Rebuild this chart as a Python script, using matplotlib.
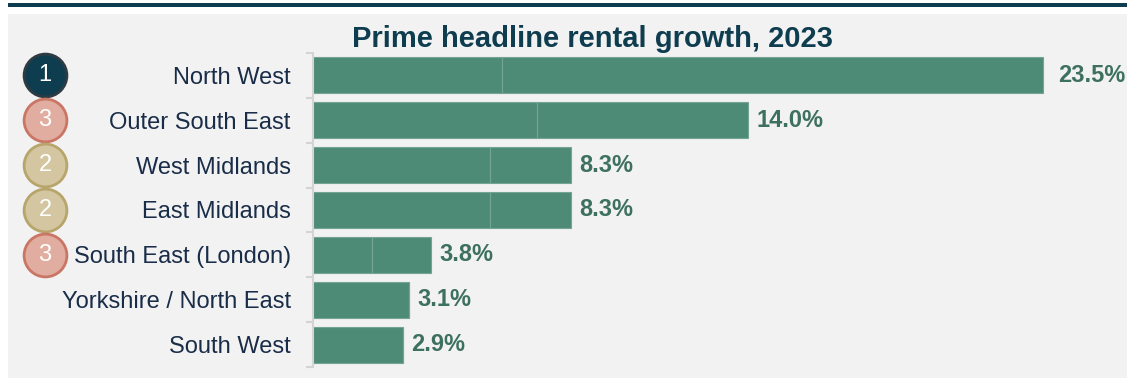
import matplotlib
matplotlib.use("Agg")
import matplotlib.pyplot as plt
import matplotlib.patches as mpatches
from matplotlib.transforms import blended_transform_factory
import numpy as np

plt.rcParams['font.family'] = ['Liberation Sans', 'DejaVu Sans']

# rental growth by region, 2023 (%)
regions = ['North West', 'Outer South East', 'West Midlands', 'East Midlands',
           'South East (London)', 'Yorkshire / North East', 'South West']
growth = [23.5, 14.0, 8.3, 8.3, 3.8, 3.1, 2.9]
# first stacked segment of each bar (0 = single segment)
first_part = [6.1, 7.2, 5.7, 5.7, 1.9, 0, 0]
# ranking badges (0 = no badge)
ranks = [1, 3, 2, 2, 3, 0, 0]

badge_fill = {1: '#0f3d50', 2: '#d3c6a0', 3: '#e2ada1'}
badge_edge = {1: '#2e3b42', 2: '#b8a56c', 3: '#c97664'}

W, H = 1127, 383
fig = plt.figure(figsize=(W / 100, H / 100), dpi=100)
fig.patch.set_facecolor('white')

# grey panel and dark rule on top
fig.patches.append(mpatches.Rectangle((8 / W, 5 / H), 1 - 8 / W, 1 - 19 / H,
                                      transform=fig.transFigure,
                                      facecolor='#f2f2f2', edgecolor='none', zorder=-5))
fig.patches.append(mpatches.Rectangle((8 / W, 1 - 6.5 / H), 1 - 8 / W, 3.5 / H,
                                      transform=fig.transFigure,
                                      facecolor='#0f3d50', edgecolor='none', zorder=-5))

fig.text(592 / W, 1 - 47 / H, 'Prime headline rental growth, 2023',
         ha='center', va='baseline', fontsize=21, fontweight='bold', color='#0f3d50',
         zorder=-1)

ax_l, ax_r = 313 / W, 1.0
ax_top, ax_bot = 1 - 53 / H, 1 - 367 / H
ax = fig.add_axes([ax_l, ax_bot, ax_r - ax_l, ax_top - ax_bot])
ax.set_facecolor('none')

y = np.arange(len(regions))
bar_col = '#4e8b76'
edge_col = '#73a592'
seg1 = np.array([f if f > 0 else g for f, g in zip(first_part, growth)])
seg2 = np.array(growth) - seg1
ax.barh(y, seg1, height=0.8, color=bar_col, edgecolor=edge_col, linewidth=0.8)
ax.barh(y, seg2, left=seg1, height=0.8, color=bar_col, edgecolor=edge_col, linewidth=0.8)

# scale: 23.5% bar ends at x=1043 px
ax.set_xlim(0, 23.5 * (W - 313) / (1043 - 313))
ax.set_ylim(len(regions) - 0.5, -0.5)

for yi, v in zip(y, growth):
    off = 11 if v == max(growth) else 6
    ax.annotate(f'{v:.1f}%', (v, yi), xytext=(off, 0), textcoords='offset points',
                ha='left', va='center', fontsize=17, fontweight='bold',
                color='#3d705f', annotation_clip=False)

for s in ['top', 'right', 'bottom']:
    ax.spines[s].set_visible(False)
ax.spines['left'].set_color('#d4d4d4')
ax.spines['left'].set_linewidth(1.5)
ax.set_xticks([])
ax.set_yticks(y)
ax.set_yticklabels(regions, fontsize=17, color='#1a2d48')
ax.tick_params(axis='y', which='major', length=0, pad=16)
ax.set_yticks(np.arange(-0.5, len(regions), 1), minor=True)
ax.tick_params(axis='y', which='minor', length=5, width=1.5, color='#d4d4d4')

# ranking badges
tr = blended_transform_factory(fig.transFigure, ax.transData)
for yi, r in zip(y, ranks):
    if r == 0:
        continue
    ax.scatter([45 / W], [yi], s=950, transform=tr, clip_on=False,
               facecolor=badge_fill[r], edgecolor=badge_edge[r], linewidth=2, zorder=5)
    ax.text(45 / W, yi, str(r), transform=tr, ha='center', va='center',
            fontsize=17, color='white', zorder=6)

fig.savefig('out.png', dpi=100, facecolor=fig.get_facecolor())
